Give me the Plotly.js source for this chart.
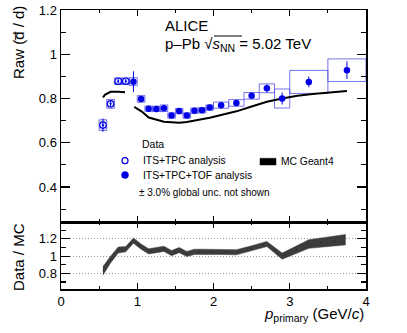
<!DOCTYPE html>
<html>
<head>
<meta charset="utf-8">
<script src="https://cdn.plot.ly/plotly-3.0.1.min.js"></script>
<style>html,body{margin:0;padding:0;background:#fff;}#chart{width:407px;height:333px;}</style>
</head>
<body>
<div id="chart"></div>
<script>
// ITS+TPC analysis (open markers)
const tpcX = [0.55, 0.65, 0.75, 0.85];
const tpcY = [0.680, 0.776, 0.878, 0.878];
const tpcStat = [0.030, 0.012, 0.010, 0.010];
const tpcSyst = [0.024, 0.020, 0.015, 0.015];
const tpcW = [0.1, 0.1, 0.1, 0.1];

// ITS+TPC+TOF analysis (filled markers)
const tofX = [0.95, 1.05, 1.15, 1.25, 1.35, 1.45, 1.55, 1.65, 1.75, 1.85, 1.95, 2.1, 2.3, 2.5, 2.7, 2.9, 3.25, 3.75];
const tofY = [0.876, 0.798, 0.754, 0.753, 0.756, 0.723, 0.743, 0.723, 0.745, 0.747, 0.759, 0.770, 0.780, 0.812, 0.846, 0.800, 0.875, 0.928];
const tofStat = [0.047, 0.012, 0.006, 0.006, 0.006, 0.006, 0.006, 0.006, 0.006, 0.006, 0.006, 0.006, 0.008, 0.010, 0.018, 0.027, 0.024, 0.040];
const tofSyst = [0.018, 0.015, 0.012, 0.012, 0.015, 0.012, 0.012, 0.012, 0.012, 0.012, 0.012, 0.014, 0.015, 0.015, 0.020, 0.043, 0.052, 0.051];
const tofW = [0.1, 0.1, 0.1, 0.1, 0.1, 0.1, 0.1, 0.1, 0.1, 0.1, 0.1, 0.2, 0.2, 0.2, 0.2, 0.2, 0.5, 0.5];

// MC Geant4 curve
const mcX = [0.55, 0.58, 0.65, 0.75, 0.84, null, 0.96, 1.06, 1.15, 1.25, 1.35, 1.45, 1.55, 1.65, 1.75, 1.85, 1.95, 2.1, 2.3, 2.5, 2.7, 2.9, 3.1, 3.3, 3.5, 3.75];
const mcY = [0.805, 0.818, 0.830, 0.831, 0.828, null, 0.762, 0.741, 0.714, 0.703, 0.695, 0.693, 0.690, 0.694, 0.700, 0.706, 0.713, 0.725, 0.742, 0.764, 0.785, 0.800, 0.812, 0.820, 0.827, 0.834];

// Data / MC ratio band
const ratioX = [0.55, 0.65, 0.75, 0.85, 0.95, 1.05, 1.15, 1.25, 1.35, 1.45, 1.55, 1.65, 1.75, 1.85, 1.95, 2.1, 2.3, 2.5, 2.7, 2.9, 3.25, 3.73];
const ratioY = [0.83, 0.96, 1.07, 1.08, 1.18, 1.11, 1.055, 1.07, 1.085, 1.035, 1.07, 1.025, 1.05, 1.05, 1.05, 1.05, 1.045, 1.09, 1.14, 1.00, 1.14, 1.19];
const ratioErr = [0.05, 0.04, 0.035, 0.03, 0.03, 0.03, 0.03, 0.03, 0.03, 0.03, 0.03, 0.03, 0.03, 0.03, 0.03, 0.03, 0.03, 0.03, 0.03, 0.035, 0.05, 0.06];

const xTickVals = [0, 1, 2, 3, 4];
const xTickText = ['0', '1', '2', '3', '4'];

const BLUE = '#0000e6';
const BOXC = 'rgba(70,70,230,0.75)';
const FONT = 'Liberation Sans, Arial, sans-serif';

const bandUp = ratioY.map((v, i) => v + ratioErr[i]);
const bandLo = ratioY.map((v, i) => v - ratioErr[i]);

const traces = [
  { type: 'bar', x: tpcX, y: tpcSyst.map(s => 2 * s), base: tpcY.map((v, i) => v - tpcSyst[i]), width: tpcW,
    xaxis: 'x2', yaxis: 'y', marker: { color: 'rgba(120,120,255,0.15)', line: { color: BOXC, width: 1 } }, showlegend: false },
  { type: 'bar', x: tofX, y: tofSyst.map(s => 2 * s), base: tofY.map((v, i) => v - tofSyst[i]), width: tofW,
    xaxis: 'x2', yaxis: 'y', marker: { color: 'rgba(0,0,0,0)', line: { color: BOXC, width: 1 } }, showlegend: false },
  { type: 'scatter', mode: 'lines', x: mcX, y: mcY, xaxis: 'x2', yaxis: 'y', connectgaps: false,
    line: { color: '#000', width: 2 }, showlegend: false },
  { type: 'scatter', mode: 'markers', x: tpcX, y: tpcY, xaxis: 'x2', yaxis: 'y',
    error_y: { type: 'data', array: tpcStat, visible: true, color: BLUE, thickness: 1, width: 0 },
    marker: { symbol: 'circle-open-dot', size: 6.5, color: BLUE, line: { color: BLUE, width: 1.2 } }, showlegend: false },
  { type: 'scatter', mode: 'markers', x: tofX, y: tofY, xaxis: 'x2', yaxis: 'y',
    error_y: { type: 'data', array: tofStat, visible: true, color: BLUE, thickness: 1, width: 0 },
    marker: { symbol: 'circle', size: 6.5, color: BLUE }, showlegend: false },
  { type: 'scatter', mode: 'lines', x: ratioX.concat(ratioX.slice().reverse()), y: bandUp.concat(bandLo.slice().reverse()),
    xaxis: 'x', yaxis: 'y2', fill: 'toself', fillcolor: '#3c3c3c', line: { color: '#3c3c3c', width: 0.5 }, showlegend: false },
  { type: 'scatter', mode: 'lines', x: ratioX, y: ratioY, xaxis: 'x', yaxis: 'y2',
    line: { color: '#111', width: 0.8, dash: '1px,12px' }, showlegend: false }
];

const H = 279, W = 305, L = 61, T = 10;
const px = v => (v - L) / W;
const py = v => 1 - (v - T) / H;
const splitFrac = (289.3 - 222.7) / H;

const axisCommon = {
  showline: true, linecolor: '#000', linewidth: 1.5, mirror: 'ticks', ticks: 'inside',
  tickcolor: '#000', tickwidth: 1.2, showgrid: false, zeroline: false,
  tickfont: { family: FONT, size: 13, color: '#000' }
};

const layout = {
  width: 407, height: 333,
  margin: { l: L, r: 407 - L - W, t: T, b: 333 - T - H },
  paper_bgcolor: '#fff', plot_bgcolor: '#fff',
  barmode: 'overlay', showlegend: false,
  xaxis: Object.assign({}, axisCommon, { domain: [0, 1], anchor: 'y2', range: [0, 4], tickmode: 'array', tickvals: xTickVals, ticktext: xTickText,
    ticklen: 6, minor: { dtick: 0.5, ticklen: 3, ticks: 'inside', tickcolor: '#000' } }),
  xaxis2: Object.assign({}, axisCommon, { domain: [0, 1], anchor: 'y', range: [0, 4], tickmode: 'array', tickvals: xTickVals, showticklabels: false,
    ticklen: 6, minor: { dtick: 0.5, ticklen: 3, ticks: 'inside', tickcolor: '#000' } }),
  yaxis: Object.assign({}, axisCommon, { domain: [splitFrac, 1], anchor: 'x2', range: [0.24, 1.2], dtick: 0.2, tick0: 0,
    ticklen: 9, minor: { dtick: 0.1, ticklen: 5, ticks: 'inside', tickcolor: '#000' } }),
  yaxis2: Object.assign({}, axisCommon, { domain: [0, splitFrac], anchor: 'x', range: [0.62, 1.39], dtick: 0.2, tick0: 0,
    ticklen: 9, showgrid: true, gridcolor: '#999', griddash: '1px,2px', gridwidth: 1,
    minor: { dtick: 0.1, ticklen: 5, ticks: 'inside', tickcolor: '#000' } }),
  annotations: [
    { xref: 'paper', yref: 'paper', x: px(18), y: py(43), text: 'Raw (d\u0305 / d)', textangle: -90, showarrow: false,
      xanchor: 'center', yanchor: 'middle', font: { family: FONT, size: 15, color: '#000' } },
    { xref: 'paper', yref: 'paper', x: px(18), y: py(257), text: 'Data / MC', textangle: -90, showarrow: false,
      xanchor: 'center', yanchor: 'middle', font: { family: FONT, size: 15, color: '#000' } },
    { xref: 'paper', yref: 'paper', x: 1, y: py(314), text: '<i>p</i><sub>primary</sub> (GeV/<i>c</i>)', showarrow: false,
      xanchor: 'right', yanchor: 'middle', font: { family: FONT, size: 15, color: '#000' } },
    { xref: 'paper', yref: 'paper', x: px(163), y: py(26), text: 'ALICE', showarrow: false,
      xanchor: 'left', yanchor: 'middle', font: { family: FONT, size: 15, color: '#000' } },
    { xref: 'paper', yref: 'paper', x: px(163), y: py(44.5), text: 'p\u2013Pb \u221A<i>s</i><sub>NN</sub> = 5.02 TeV', showarrow: false,
      xanchor: 'left', yanchor: 'middle', font: { family: FONT, size: 15, color: '#000' } },
    { xref: 'paper', yref: 'paper', x: px(140), y: py(144), text: 'Data', showarrow: false,
      xanchor: 'left', yanchor: 'middle', font: { family: FONT, size: 10.5, color: '#000' } },
    { xref: 'paper', yref: 'paper', x: px(140.5), y: py(160.7), text: 'ITS+TPC analysis', showarrow: false,
      xanchor: 'left', yanchor: 'middle', font: { family: FONT, size: 10.3, color: '#000' } },
    { xref: 'paper', yref: 'paper', x: px(140.5), y: py(175), text: 'ITS+TPC+TOF analysis', showarrow: false,
      xanchor: 'left', yanchor: 'middle', font: { family: FONT, size: 10.3, color: '#000' } },
    { xref: 'paper', yref: 'paper', x: px(137), y: py(192.5), text: '\u00B1 3.0% global unc. not shown', showarrow: false,
      xanchor: 'left', yanchor: 'middle', font: { family: FONT, size: 10, color: '#000' } },
    { xref: 'paper', yref: 'paper', x: px(279), y: py(161), text: 'MC Geant4', showarrow: false,
      xanchor: 'left', yanchor: 'middle', font: { family: FONT, size: 10.3, color: '#000' } }
  ],
  shapes: [
    { type: 'line', xref: 'paper', yref: 'paper', x0: px(214), x1: px(242), y0: py(36), y1: py(36),
      line: { color: '#000', width: 1 } },
    { type: 'circle', xref: 'paper', yref: 'paper', x0: px(122), x1: px(128), y0: py(157.7), y1: py(163.7),
      line: { color: BLUE, width: 1.2 }, fillcolor: 'rgba(0,0,0,0)' },
    { type: 'circle', xref: 'paper', yref: 'paper', x0: px(121.5), x1: px(128.5), y0: py(171.5), y1: py(178.5),
      line: { color: BLUE, width: 0.5 }, fillcolor: BLUE },
    { type: 'rect', xref: 'paper', yref: 'paper', x0: px(260), x1: px(276), y0: py(158.3), y1: py(165),
      line: { color: '#000', width: 0.5 }, fillcolor: '#000' }
  ]
};

Plotly.newPlot('chart', traces, layout, { staticPlot: true, displayModeBar: false });
</script>
</body>
</html>
